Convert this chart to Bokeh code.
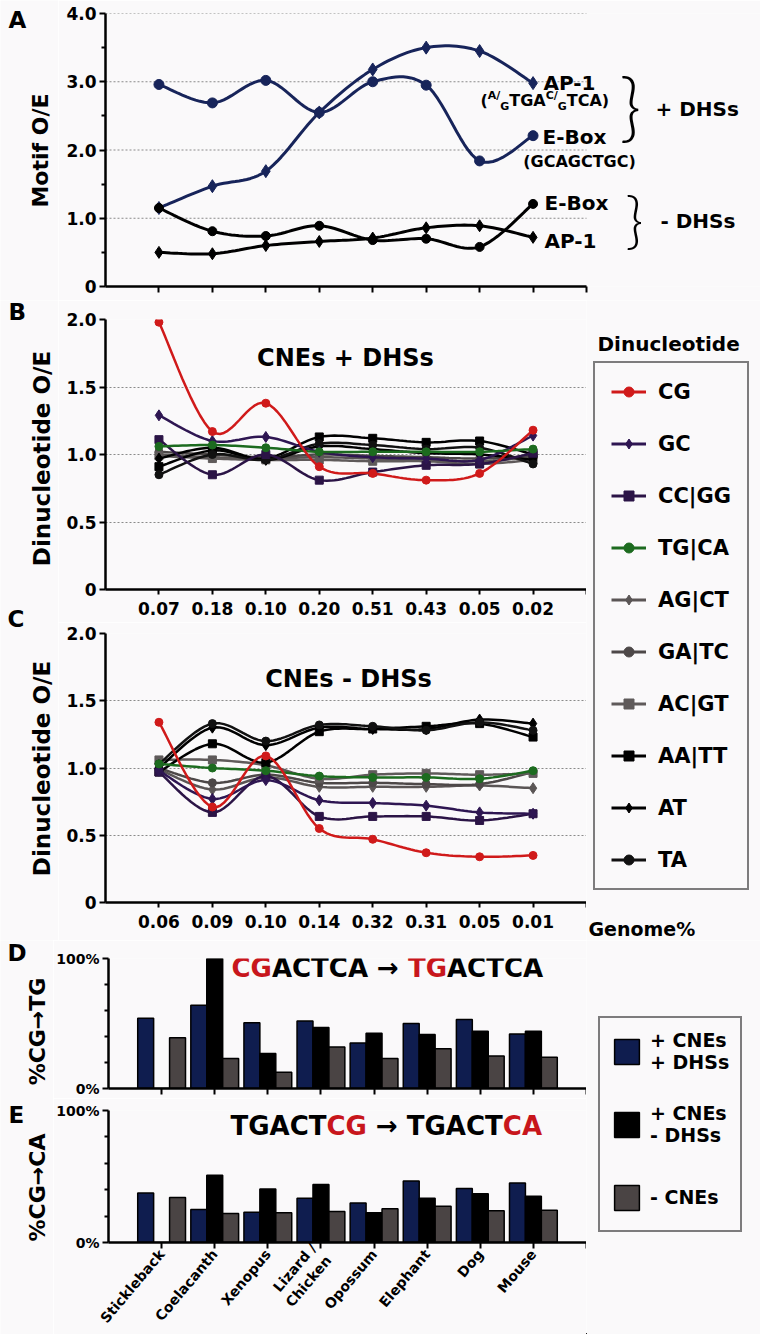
import numpy as np
from bokeh.plotting import figure
from bokeh.models import (Range1d, FixedTicker, Label, Legend, LegendItem, ColumnDataSource,
                          Arrow)
from bokeh.layouts import column, row
from bokeh.transform import dodge
from bokeh.embed import file_html
from bokeh.resources import INLINE

# ---------------- data ----------------
positions = [1, 2, 3, 4, 5, 6, 7, 8]
genome_plus_dhs = ["0.07", "0.18", "0.10", "0.20", "0.51", "0.43", "0.05", "0.02"]
genome_minus_dhs = ["0.06", "0.09", "0.10", "0.14", "0.32", "0.31", "0.05", "0.01"]
species = ["Stickleback", "Coelacanth", "Xenopus", "Lizard /\nChicken", "Opossum",
           "Elephant", "Dog", "Mouse"]

# Panel A: motif O/E
ap1_plus_dhs = [1.15, 1.47, 1.69, 2.55, 3.18, 3.50, 3.45, 2.98]
ebox_plus_dhs = [2.96, 2.69, 3.02, 2.55, 3.00, 2.95, 1.84, 2.21]
ebox_minus_dhs = [1.15, 0.81, 0.74, 0.89, 0.68, 0.70, 0.58, 1.21]
ap1_minus_dhs = [0.50, 0.48, 0.60, 0.66, 0.71, 0.86, 0.89, 0.72]
a_ticks = [0, 1, 2, 3, 4]
a_tick_labels = ["0", "1.0", "2.0", "3.0", "4.0"]

# Panel B: dinucleotide O/E, CNEs + DHSs
b_CG = [1.98, 1.17, 1.38, 0.91, 0.86, 0.81, 0.86, 1.18]
b_GC = [1.29, 1.10, 1.13, 1.02, 0.98, 0.97, 0.96, 1.14]
b_CCGG = [1.11, 0.85, 1.00, 0.81, 0.87, 0.92, 0.93, 1.01]
b_TGCA = [1.06, 1.07, 1.05, 1.02, 1.02, 1.02, 1.02, 1.04]
b_AGCT = [1.00, 0.98, 0.97, 0.98, 0.97, 0.96, 0.95, 0.98]
b_GATC = [1.02, 1.00, 0.98, 1.00, 0.99, 0.98, 0.97, 0.99]
b_ACGT = [0.99, 0.97, 0.96, 0.96, 0.95, 0.95, 0.93, 0.96]
b_AATT = [0.91, 1.03, 0.97, 1.13, 1.12, 1.09, 1.10, 1.00]
b_AT = [0.97, 1.05, 0.96, 1.06, 1.04, 1.01, 1.00, 0.96]
b_TA = [0.85, 1.00, 0.96, 1.08, 1.07, 1.04, 1.05, 0.93]

# Panel C: dinucleotide O/E, CNEs - DHSs
c_CG = [1.34, 0.71, 1.09, 0.55, 0.47, 0.37, 0.34, 0.35]
c_GC = [0.98, 0.77, 0.91, 0.76, 0.74, 0.72, 0.67, 0.66]
c_CCGG = [0.97, 0.67, 0.94, 0.64, 0.64, 0.64, 0.61, 0.66]
c_TGCA = [1.03, 1.00, 0.98, 0.94, 0.93, 0.93, 0.92, 0.98]
c_AGCT = [0.99, 0.84, 0.93, 0.86, 0.86, 0.86, 0.87, 0.85]
c_GATC = [1.00, 0.89, 0.95, 0.89, 0.89, 0.88, 0.88, 0.97]
c_ACGT = [1.06, 1.06, 1.02, 0.92, 0.95, 0.96, 0.95, 0.96]
c_AATT = [0.97, 1.18, 1.04, 1.27, 1.29, 1.31, 1.33, 1.23]
c_AT = [1.00, 1.30, 1.17, 1.30, 1.29, 1.29, 1.36, 1.33]
c_TA = [1.03, 1.33, 1.20, 1.32, 1.31, 1.28, 1.34, 1.28]

# Panel D: % CG->TG
d_cne_dhs = [54, 64, 50.5, 52, 35, 50, 53, 42]
d_cne_nodhs = [0, 100, 27, 47, 42.5, 41.5, 44, 44]
d_no_cne = [39, 23, 12.5, 32, 23, 30.5, 25, 24]
# Panel E: % CG->CA
e_cne_dhs = [37.5, 25, 23, 33.5, 30, 46.5, 41, 45]
e_cne_nodhs = [0, 51, 40.5, 44, 22.5, 33.5, 37, 35]
e_no_cne = [34, 22, 22.5, 23.5, 25.5, 27.5, 24, 24.5]

dinucleotides = ["CG", "GC", "CC|GG", "TG|CA", "AG|CT", "GA|TC", "AC|GT", "AA|TT", "AT", "TA"]
b_series = [b_CG, b_GC, b_CCGG, b_TGCA, b_AGCT, b_GATC, b_ACGT, b_AATT, b_AT, b_TA]
c_series = [c_CG, c_GC, c_CCGG, c_TGCA, c_AGCT, c_GATC, c_ACGT, c_AATT, c_AT, c_TA]

# ---------------- styles ----------------
BG = "#faf9fa"
FONT = "DejaVu Sans"
NAVY = "#17245a"
BAR_NAVY = "#0f1d4f"
BAR_GRAY = "#4a4444"
RED = "#c8161c"
GRID = "#8a8a8a"
din_colors = ["#d01a1a", "#2e1652", "#2b1446", "#1c6b1f", "#5a5555", "#4d4848",
              "#5f5a5a", "#000000", "#000000", "#111111"]
din_markers = ["circle", "diamond", "square", "circle", "diamond", "circle",
               "square", "square", "diamond", "circle"]
draw_order = [4, 5, 6, 7, 8, 9, 2, 1, 3, 0]

FRAME_LEFT = 105          # page x of every y axis
UNIT = 481 / 9            # px per category step
SW = 58                   # width of the left text strip (panels A-C)
SW2 = 53                  # width of the left text strip (panels D-E)


def smooth(xs, ys, steps=14):
    x = np.asarray(xs, float)
    y = np.asarray(ys, float)
    px = np.concatenate([[x[0]], x, [x[-1]]])
    py = np.concatenate([[y[0]], y, [y[-1]]])
    ox, oy = [], []
    n = len(x)
    for i in range(n - 1):
        t = np.linspace(0, 1, steps, endpoint=(i == n - 2))
        t2, t3 = t * t, t * t * t
        for P, out in ((px, ox), (py, oy)):
            p0, p1, p2, p3 = P[i], P[i + 1], P[i + 2], P[i + 3]
            out.extend(0.5 * (2 * p1 + (-p0 + p2) * t + (2 * p0 - 5 * p1 + 4 * p2 - p3) * t2
                              + (-p0 + 3 * p1 - 3 * p2 + p3) * t3))
    return ox, oy


def base_fig(w, h, l, r, t, b, ymax, xmax=9):
    p = figure(width=w, height=h, x_range=Range1d(0, xmax), y_range=Range1d(0, ymax),
               output_backend="svg", toolbar_location=None, title=None,
               min_border_left=l, min_border_right=r, min_border_top=t, min_border_bottom=b)
    p.background_fill_color = BG
    p.border_fill_color = BG
    p.outline_line_color = None
    p.xgrid.visible = False
    p.ygrid.grid_line_color = GRID
    p.ygrid.grid_line_dash = "2 2"
    p.ygrid.grid_line_width = 1
    for ax in p.axis:
        ax.axis_line_width = 2.5
        ax.axis_line_color = "black"
        ax.major_tick_line_width = 2
        ax.minor_tick_line_width = 2
        ax.major_tick_line_color = "black"
        ax.minor_tick_line_color = "black"
        ax.major_tick_in = 0
        ax.major_tick_out = 6
        ax.minor_tick_in = 0
        ax.minor_tick_out = 4
        ax.major_label_text_font = FONT
        ax.major_label_text_font_style = "bold"
        ax.major_label_text_font_size = "17px"
        ax.major_label_text_color = "black"
        ax.major_label_standoff = 3
    return p


def strip_fig(w, h, x0=0, y0=0):
    p = figure(width=w, height=h, x_range=Range1d(x0, x0 + w), y_range=Range1d(y0, y0 + h),
               output_backend="svg", toolbar_location=None, title=None,
               x_axis_type=None, y_axis_type=None,
               min_border=0, min_border_left=0, min_border_right=0, min_border_top=0,
               min_border_bottom=0)
    p.background_fill_color = BG
    p.border_fill_color = BG
    p.outline_line_color = None
    return p


def lab(p, frame, px, py, text, size, color="black", align="left", angle=0.0,
        font=FONT, style="bold"):
    """Text annotation at a page pixel position; frame = page (left, bottom) of p's frame."""
    fl, fb = frame
    p.add_layout(Label(x=px - fl, y=fb - py, x_units="screen", y_units="screen",
                       text=text, text_font=font, text_font_style=style,
                       text_font_size=f"{size}px", text_color=color, text_align=align,
                       text_baseline="middle", angle=angle))


def ticks_only_x(p):
    p.xaxis.ticker = FixedTicker(ticks=[], minor_ticks=[1, 2, 3, 4, 5, 6, 7, 8, 9])
    p.xaxis.minor_tick_out = 6


def labelled_x(p, labels):
    p.xaxis.ticker = FixedTicker(ticks=positions, minor_ticks=[9])
    p.xaxis.minor_tick_out = 6
    p.xaxis.major_label_overrides = {i + 1: s for i, s in enumerate(labels)}


# ---------------- Panel A ----------------
SA = strip_fig(SW, 300)
lab(SA, (0, 300), 8, 19, "A", 23)
lab(SA, (0, 300), 40, 150, "Motif O/E", 22, align="center", angle=np.pi / 2)

fA = (FRAME_LEFT, 286)
pA = base_fig(760 - SW, 300, FRAME_LEFT - SW, 0, 13, 14, 4, xmax=655 / UNIT)
pA.yaxis.ticker = FixedTicker(ticks=a_ticks, minor_ticks=[0.5, 1.5, 2.5, 3.5])
pA.yaxis.major_label_overrides = dict(zip(a_ticks, a_tick_labels))
pA.ygrid.visible = False
pA.xaxis.bounds = (0, 9)
ticks_only_x(pA)
for v in a_ticks[1:]:
    pA.add_layout(Arrow(end=None, x_start=0, x_end=9, y_start=v, y_end=v,
                        line_color=GRID, line_dash="2 2", line_width=1, level="underlay"))
for ys, col, mk, sz in [(ap1_plus_dhs, NAVY, "diamond", 13), (ebox_plus_dhs, NAVY, "circle", 10),
                        (ebox_minus_dhs, "black", "circle", 9), (ap1_minus_dhs, "black", "diamond", 12)]:
    sx, sy = smooth(positions, ys)
    pA.line(sx, sy, line_color=col, line_width=3)
    pA.scatter(positions, ys, marker=mk, size=sz, fill_color=col, line_color=col)

lab(pA, fA, 543, 82, "AP-1", 20)
for x, y, t, s in [(480, 100, "(", 16), (487.3, 95, "A", 11), (495.8, 95, "/", 11),
                   (499.8, 106, "G", 11), (508.8, 100, "TGA", 16), (545.2, 95, "C", 11),
                   (553.3, 95, "/", 11), (557.3, 106, "G", 11), (566.3, 100, "TCA)", 16)]:
    lab(pA, fA, x, y, t, s)
lab(pA, fA, 542, 136, "E-Box", 20)
lab(pA, fA, 579, 161, "(GCAGCTGC)", 16, align="center")
lab(pA, fA, 544, 202, "E-Box", 20)
lab(pA, fA, 544, 240, "AP-1", 20)
lab(pA, fA, 630, 104, "}", 74, align="center", font="Lato Light, DejaVu Sans", style="normal")
lab(pA, fA, 655, 108, "+ DHSs", 20)
lab(pA, fA, 634, 217, "}", 62, align="center", font="Lato Light, DejaVu Sans", style="normal")
lab(pA, fA, 660, 220, "- DHSs", 20)


# ---------------- Panels B, C ----------------
def din_panel(h, t, b, frame, series, xlabels, title, txy):
    p = base_fig(586 - SW, h, FRAME_LEFT - SW, 0, t, b, 2)
    p.yaxis.ticker = FixedTicker(ticks=[0, 0.5, 1, 1.5, 2])
    p.yaxis.major_label_overrides = {0: "0", 0.5: "0.5", 1: "1.0", 1.5: "1.5", 2: "2.0"}
    p.ygrid.ticker = FixedTicker(ticks=[0.5, 1, 1.5, 2])
    labelled_x(p, xlabels)
    p.xaxis.major_tick_out = 5
    p.xaxis.minor_tick_out = 5
    p.xaxis.major_label_standoff = 7
    for k in draw_order:
        ys = series[k]
        sx, sy = smooth(positions, ys)
        p.line(sx, sy, line_color=din_colors[k], line_width=2.5)
        sz = {"circle": 8, "square": 8, "diamond": 11}[din_markers[k]]
        p.scatter(positions, ys, marker=din_markers[k], size=sz,
                  fill_color=din_colors[k], line_color=din_colors[k])
    lab(p, frame, txy[0], txy[1], title, 24, align="center")
    return p


SBC = strip_fig(SW, 640)
oBC = (0, 940)
lab(SBC, oBC, 8, 311, "B", 23)
lab(SBC, oBC, 7, 618, "C", 23)
lab(SBC, oBC, 41, 458, "Dinucleotide O/E", 23, align="center", angle=np.pi / 2)
lab(SBC, oBC, 41, 768, "Dinucleotide O/E", 23, align="center", angle=np.pi / 2)

pB = din_panel(322, 19, 33, (FRAME_LEFT, 589), b_series, genome_plus_dhs,
               "CNEs + DHSs", (345, 357))
pC = din_panel(318, 11, 38, (FRAME_LEFT, 902), c_series, genome_minus_dhs,
               "CNEs - DHSs", (348, 678))


# ---------------- Panels D, E ----------------
def bar_panel(h, t, b, v1, v2, v3):
    p = base_fig(586 - SW2, h, FRAME_LEFT - SW2, 0, t, b, 100)
    p.ygrid.visible = False
    p.yaxis.ticker = FixedTicker(ticks=[0, 100], minor_ticks=[20, 40, 60, 80])
    p.yaxis.major_label_overrides = {0: "0%", 100: "100%"}
    p.yaxis.major_label_text_font_size = "14px"
    src = ColumnDataSource(dict(x=positions, a=v1, b=v2, c=v3))
    for fld, off, col in [("a", -0.3, BAR_NAVY), ("b", 0.0, "black"), ("c", 0.3, BAR_GRAY)]:
        p.vbar(x=dodge("x", off), top=fld, width=0.3, bottom=0, source=src,
               fill_color=col, line_color="black", line_width=1.5)
    return p


SDE = strip_fig(SW2, 394)
oDE = (0, 1334)
lab(SDE, oDE, 7, 952, "D", 23)
lab(SDE, oDE, 8, 1114, "E", 23)
lab(SDE, oDE, 37, 1031, "%CG\u2192TG", 22, align="center", angle=np.pi / 2)
lab(SDE, oDE, 37, 1187, "%CG\u2192CA", 22, align="center", angle=np.pi / 2)

fD = (FRAME_LEFT, 1088)
pD = bar_panel(158, 18, 10, d_cne_dhs, d_cne_nodhs, d_no_cne)
ticks_only_x(pD)
lab(pD, fD, 228, 967, "CG", 26, color=RED)
lab(pD, fD, 268.4, 967, "ACTCA \u2192", 26)
lab(pD, fD, 404.4, 967, "TG", 26, color=RED)
lab(pD, fD, 443.5, 967, "ACTCA", 26)

fE = (FRAME_LEFT, 1249)
pE = bar_panel(236, 12, 85, e_cne_dhs, e_cne_nodhs, e_no_cne)
labelled_x(pE, species)
pE.xaxis.major_label_orientation = 0.87
pE.xaxis.major_label_text_font_size = "14px"
pE.xaxis.major_label_standoff = 3
lab(pE, fE, 227, 1132, "TGACT", 26)
lab(pE, fE, 323, 1132, "CG", 26, color=RED)
lab(pE, fE, 372.4, 1132, "\u2192 TGACT", 26)
lab(pE, fE, 499.3, 1132, "CA", 26, color=RED)


# ---------------- legends ----------------
# ranges chosen so that the series drawn here (only for the legend glyphs) stay off-view
fL1 = (586, 940)
L1 = strip_fig(174, 640, x0=100, y0=1000)
items = []
for k, name in enumerate(dinucleotides):
    r1 = L1.line(positions, b_series[k], line_color=din_colors[k], line_width=3)
    r2 = L1.scatter(positions, b_series[k], marker=din_markers[k], size=10,
                    fill_color=din_colors[k], line_color=din_colors[k])
    items.append(LegendItem(label=name, renderers=[r1, r2]))
leg1 = Legend(items=items, location=(7, 50), margin=0, padding=16, spacing=27,
              glyph_width=35, glyph_height=25, label_height=25, label_standoff=12,
              border_line_color="black", border_line_width=2.5,
              background_fill_color=BG, background_fill_alpha=1.0,
              label_text_font=FONT, label_text_font_style="bold", label_text_font_size="21px",
              label_text_color="black")
L1.add_layout(leg1)
lab(L1, fL1, 597, 343, "Dinucleotide", 20)
lab(L1, fL1, 588, 928, "Genome%", 19)

L2 = strip_fig(174, 394, x0=100, y0=1000)
bar_names = ["+ CNEs\n+ DHSs", "+ CNEs\n- DHSs", "- CNEs"]
bar_cols = [BAR_NAVY, "black", BAR_GRAY]
bar_vals = [d_cne_dhs, d_cne_nodhs, d_no_cne]
items2 = []
for name, col, vals in zip(bar_names, bar_cols, bar_vals):
    r = L2.vbar(x=positions, top=vals, width=0.3, fill_color=col,
                line_color="black", line_width=1.5)
    items2.append(LegendItem(label=name, renderers=[r]))
leg2 = Legend(items=items2, location=(12, 102), margin=0, padding=11, spacing=29,
              glyph_width=31, glyph_height=31, label_height=44, label_standoff=8,
              border_line_color="black", border_line_width=2.5,
              background_fill_color=BG, background_fill_alpha=1.0,
              label_text_font=FONT, label_text_font_style="bold", label_text_font_size="19px",
              label_text_color="black")
L2.add_layout(leg2)

layout = column(row(column(SA), pA),
                row(SBC, column(pB, pC), L1),
                row(SDE, column(pD, pE), L2))
open("out.html", "w").write(file_html(layout, INLINE))
